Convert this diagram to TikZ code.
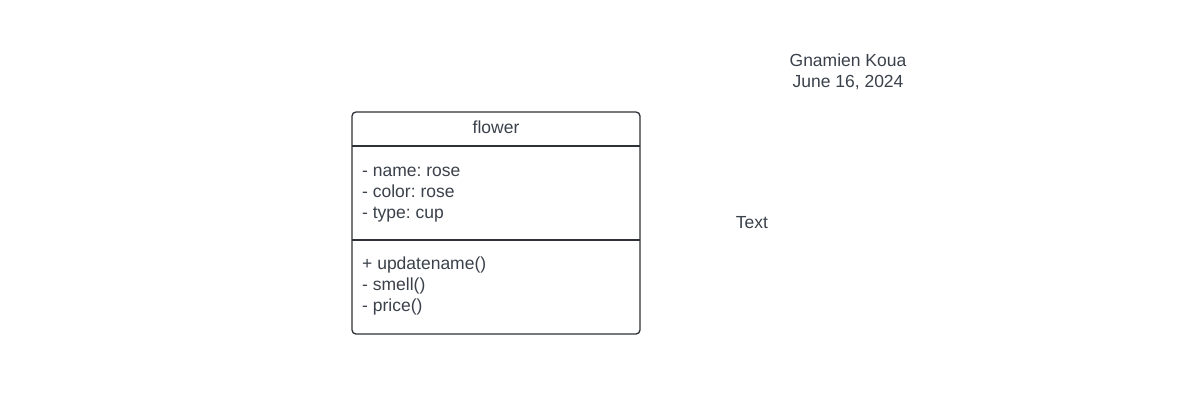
\documentclass[tikz,border=0pt]{standalone}
\usepackage{fontspec}
\setmainfont{Liberation Sans}
\frenchspacing
\definecolor{txt}{HTML}{3A414A}
\definecolor{edge}{HTML}{2E3238}
\begin{document}
\begin{tikzpicture}[x=1pt,y=-1pt,
  lbl/.style={inner sep=0pt,text=txt,font=\fontsize{17.5}{21}\selectfont},
  classbox/.style={draw=edge,line width=1.3pt,rounded corners=4pt}]
\useasboundingbox (0,0) rectangle (1200,400);
\draw[classbox] (352,112) rectangle (640,334);
\coordinate (d1l) at (352,146); \coordinate (d1r) at (640,146);
\coordinate (d2l) at (352,240); \coordinate (d2r) at (640,240);
\draw[edge,line width=1.3pt] (d1l) -- (d1r);
\draw[edge,line width=1.3pt] (d2l) -- (d2r);
\node[lbl,anchor=base] (title) at (496,133) {flower};
\node[lbl,anchor=base west] (a1) at (362,176) {- name: rose};
\node[lbl,anchor=base west] (a2) at (362,197) {- color: rose};
\node[lbl,anchor=base west] (a3) at (362,218) {- type: cup};
\node[lbl,anchor=base west] (m1) at (362,269) {+ updatename()};
\node[lbl,anchor=base west] (m2) at (362,290) {- smell()};
\node[lbl,anchor=base west] (m3) at (362,311) {- price()};
\node[lbl,anchor=base] (author) at (848,66) {Gnamien Koua};
\node[lbl,anchor=base] (date) at (848,87) {June 16, 2024};
\node[lbl,anchor=base] (text) at (752,228) {Text};
\end{tikzpicture}
\end{document}
